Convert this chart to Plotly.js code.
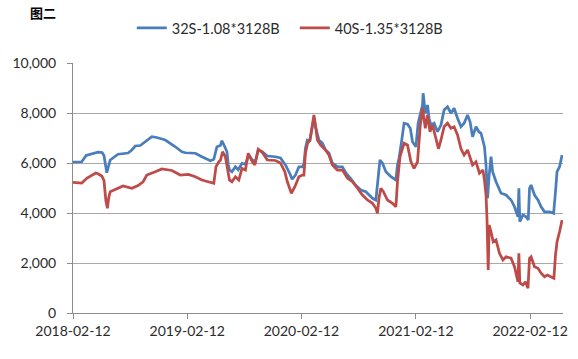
<!DOCTYPE html>
<html>
<head>
<meta charset="utf-8">
<script src="https://cdn.plot.ly/plotly-3.0.1.min.js"></script>
<style>html,body{margin:0;padding:0;background:#fff;}#chart{width:578px;height:359px;}</style>
</head>
<body>
<div id="chart"></div>
<script>
var chartTitle = '图二';
var seriesNames = ['32S-1.08*3128B', '40S-1.35*3128B'];
var tickDates = ['2018-02-12', '2019-02-12', '2020-02-12', '2021-02-12', '2022-02-12'];

var dates32 = ['2018-02-12','2018-03-12','2018-03-26','2018-04-14','2018-05-03','2018-05-16','2018-05-22','2018-05-31','2018-06-04','2018-06-11','2018-07-06','2018-08-07','2018-08-19','2018-08-30','2018-09-15','2018-10-01','2018-10-22','2018-11-07','2018-12-04','2019-01-05','2019-01-26','2019-02-06','2019-03-10','2019-03-31','2019-04-27','2019-05-08','2019-05-18','2019-05-29','2019-06-03','2019-06-12','2019-06-19','2019-06-23','2019-06-27','2019-07-05','2019-07-16','2019-07-25','2019-08-06','2019-08-17','2019-08-28','2019-09-08','2019-09-18','2019-09-27','2019-10-10','2019-10-26','2019-11-21','2019-12-07','2019-12-23','2020-01-08','2020-01-13','2020-01-24','2020-02-04','2020-02-15','2020-02-20','2020-02-25','2020-03-02','2020-03-10','2020-03-18','2020-03-23','2020-03-28','2020-04-08','2020-04-19','2020-04-29','2020-05-10','2020-05-21','2020-06-06','2020-06-22','2020-07-03','2020-07-18','2020-08-03','2020-08-20','2020-09-05','2020-09-15','2020-09-26','2020-10-07','2020-10-12','2020-10-20','2020-10-28','2020-11-08','2020-11-24','2020-12-10','2020-12-15','2020-12-20','2020-12-28','2021-01-05','2021-01-16','2021-01-25','2021-02-01','2021-02-12','2021-02-19','2021-02-28','2021-03-05','2021-03-07','2021-03-14','2021-03-21','2021-03-26','2021-04-01','2021-04-11','2021-04-22','2021-05-03','2021-05-13','2021-05-24','2021-06-04','2021-06-14','2021-06-25','2021-07-06','2021-07-16','2021-07-27','2021-08-04','2021-08-12','2021-08-23','2021-09-01','2021-09-08','2021-09-19','2021-09-24','2021-09-29','2021-10-04','2021-10-10','2021-10-15','2021-10-26','2021-11-11','2021-11-27','2021-12-13','2021-12-24','2022-01-04','2022-01-07','2022-01-10','2022-01-20','2022-01-30','2022-02-06','2022-02-10','2022-02-15','2022-02-26','2022-03-09','2022-03-19','2022-03-30','2022-04-15','2022-04-28','2022-05-04','2022-05-09','2022-05-17','2022-05-25'];
var values32 = [6030,6050,6300,6380,6430,6420,6300,5610,5800,6120,6350,6400,6520,6680,6700,6850,7050,7020,6920,6650,6450,6410,6390,6250,6090,6150,6650,6700,6890,6650,6450,5950,5720,5650,5850,5730,5990,5950,6320,6120,6050,6520,6450,6280,6250,6200,5920,5520,5350,5520,5850,5850,5950,6600,6920,6900,7390,7790,7450,6920,6800,6520,6400,5990,5850,5850,5600,5390,5120,4920,4850,4720,4590,4520,5250,6120,5990,5650,5450,5320,5920,6190,6850,7590,7550,7390,6850,6650,7590,8120,8320,8790,7990,8320,7790,7520,7590,7250,7520,8120,8250,7990,8190,7790,7450,7590,7920,7650,7050,7450,7250,7190,6650,5920,4590,5520,6250,5650,5250,4790,4720,4520,4250,3850,4990,3650,3920,3850,3720,4990,5120,4720,4520,4250,4050,4050,3990,4850,5650,5850,6320];

var dates40 = ['2018-02-12','2018-03-12','2018-03-29','2018-04-17','2018-04-26','2018-05-03','2018-05-15','2018-05-22','2018-05-28','2018-06-02','2018-06-06','2018-06-11','2018-07-06','2018-07-22','2018-08-19','2018-09-08','2018-09-24','2018-10-06','2018-11-02','2018-11-23','2018-12-25','2019-01-21','2019-02-16','2019-03-10','2019-03-31','2019-05-08','2019-05-15','2019-05-24','2019-05-29','2019-06-05','2019-06-14','2019-06-20','2019-06-27','2019-07-05','2019-07-16','2019-07-27','2019-08-06','2019-08-17','2019-08-26','2019-09-08','2019-09-16','2019-09-27','2019-10-10','2019-10-26','2019-11-21','2019-12-07','2019-12-21','2019-12-29','2020-01-11','2020-01-22','2020-02-04','2020-02-15','2020-02-20','2020-02-25','2020-03-03','2020-03-10','2020-03-18','2020-03-23','2020-03-28','2020-04-03','2020-04-13','2020-04-29','2020-05-10','2020-05-21','2020-06-06','2020-06-22','2020-07-08','2020-07-24','2020-08-09','2020-08-25','2020-09-10','2020-09-26','2020-10-07','2020-10-12','2020-10-17','2020-10-23','2020-10-31','2020-11-13','2020-11-29','2020-12-10','2020-12-15','2020-12-23','2021-01-05','2021-01-16','2021-01-27','2021-02-06','2021-02-17','2021-02-26','2021-03-05','2021-03-14','2021-03-21','2021-03-29','2021-04-06','2021-04-17','2021-04-25','2021-05-03','2021-05-13','2021-05-24','2021-06-04','2021-06-14','2021-06-25','2021-07-06','2021-07-16','2021-07-27','2021-08-07','2021-08-12','2021-08-23','2021-09-03','2021-09-14','2021-09-19','2021-09-24','2021-09-27','2021-10-01','2021-10-04','2021-10-10','2021-10-17','2021-10-26','2021-11-06','2021-11-17','2021-11-27','2021-12-13','2021-12-24','2022-01-04','2022-01-07','2022-01-10','2022-01-20','2022-01-28','2022-02-05','2022-02-10','2022-02-15','2022-02-26','2022-03-09','2022-03-19','2022-03-30','2022-04-08','2022-04-20','2022-04-29','2022-05-04','2022-05-09','2022-05-17','2022-05-25'];
var values40 = [5230,5200,5400,5560,5600,5570,5480,5300,4500,4190,4600,4850,4990,5080,4990,5100,5250,5520,5650,5760,5700,5520,5540,5450,5320,5190,5850,6050,6100,6450,6250,5850,5320,5250,5450,5320,5780,5720,6390,6050,5920,6550,6420,6120,6100,6000,5650,5250,4790,5050,5450,5520,5520,6400,6800,6900,7520,7920,7500,6920,6720,6520,6320,5920,5720,5720,5400,5250,4990,4720,4520,4390,4190,3990,4600,4990,4850,4520,4390,4250,5250,6250,6790,6720,6050,5780,6050,7520,8190,7390,7920,7250,7520,6920,6570,6920,7450,7590,7390,7450,7120,6570,6320,6520,6120,5920,6050,5590,5720,5320,4720,3790,1720,3520,3250,2850,2920,2390,2120,2250,2190,1850,1250,2390,1200,1120,1250,990,2190,2250,1850,1790,1590,1450,1520,1450,1390,2320,2850,3250,3720];

var traces = [
  {x: dates32, y: values32, name: seriesNames[0], type: 'scatter', mode: 'lines',
   line: {color: '#4a7ebb', width: 2.75}},
  {x: dates40, y: values40, name: seriesNames[1], type: 'scatter', mode: 'lines',
   line: {color: '#be4b48', width: 2.75}}
];

var axisFont = {family: 'Lato, "Liberation Sans", sans-serif', size: 14, color: '#2b2b2b'};

var layout = {
  width: 578, height: 359,
  margin: {l: 73, r: 15, t: 63, b: 46},
  paper_bgcolor: '#ffffff', plot_bgcolor: '#ffffff',
  showlegend: true,
  title: {
    text: '<b>' + chartTitle + '</b>',
    font: {family: '"Noto Sans CJK SC", sans-serif', size: 13, color: '#000000'},
    xref: 'container', yref: 'container',
    x: 0.052, xanchor: 'left', y: 0.962, yanchor: 'middle'
  },
  legend: {
    orientation: 'h', x: 0.12, xanchor: 'left', y: 1.14, yanchor: 'middle',
    font: {family: 'Lato, "Liberation Sans", sans-serif', size: 14.5, color: '#2b2b2b'},
    itemwidth: 30, entrywidth: 118, entrywidthmode: 'pixels',
    tracegroupgap: 0, bgcolor: 'rgba(0,0,0,0)'
  },
  xaxis: {
    type: 'date',
    range: ['2018-02-12', '2022-05-28'],
    tickmode: 'array', tickvals: tickDates, ticktext: tickDates,
    showgrid: false, zeroline: false,
    showline: true, linecolor: '#8c8c8c', linewidth: 1,
    ticks: 'outside', ticklen: 5, tickcolor: '#8c8c8c',
    tickfont: axisFont, fixedrange: true
  },
  yaxis: {
    range: [0, 10000], dtick: 2000, tick0: 0, tickformat: ',d',
    showgrid: true, gridcolor: '#a8a8a8', gridwidth: 1,
    zeroline: false,
    showline: true, linecolor: '#8c8c8c', linewidth: 1,
    ticks: 'outside', ticklen: 5, tickcolor: '#8c8c8c',
    ticklabelstandoff: 8,
    tickfont: axisFont, fixedrange: true
  }
};

Plotly.newPlot('chart', traces, layout, {staticPlot: true, displayModeBar: false});
</script>
</body>
</html>
